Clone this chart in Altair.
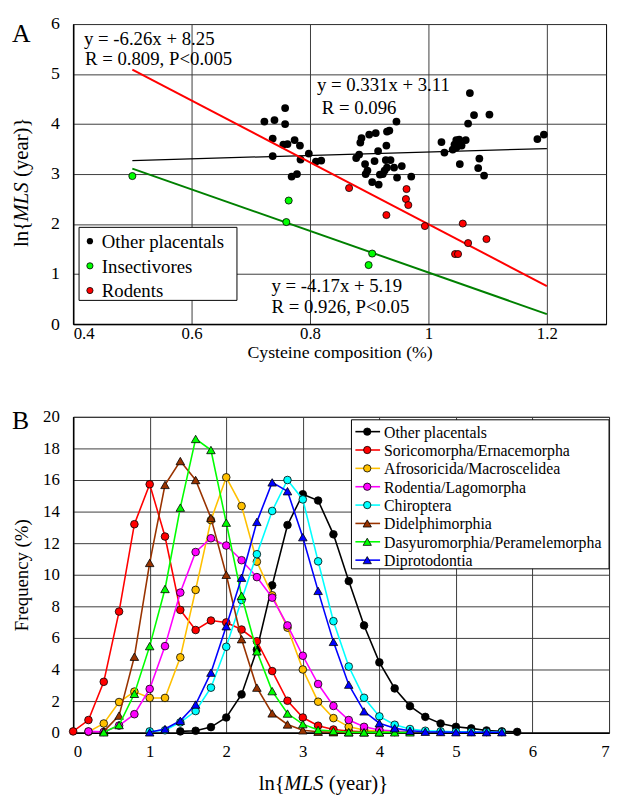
import altair as alt
import pandas as pd

FONT = "Liberation Serif"

# ---------------- Panel A data ----------------
other_x = [0.758, 0.723, 0.740, 0.758, 0.737, 0.755, 0.762, 0.774, 0.783, 0.737,
           0.798, 0.784, 0.810, 0.819, 0.769, 0.778, 0.878, 1.070, 1.077, 1.103,
           1.067, 0.946, 0.934, 0.930, 0.911, 0.900, 0.887, 0.885, 0.929, 0.915,
           0.883, 0.909, 0.928, 0.936, 0.893, 0.955, 0.942, 0.930, 0.926, 0.923,
           0.918, 0.897, 0.894, 0.947, 0.971, 0.905, 0.916, 1.022, 1.027, 1.047,
           1.052, 1.063, 1.044, 1.049, 1.041, 1.056, 1.047, 1.053, 1.086, 1.084,
           1.094, 1.184, 1.195]
other_y = [4.32, 4.05, 4.08, 4.00, 3.71, 3.59, 3.60, 3.68, 3.57, 3.36,
           3.41, 3.29, 3.25, 3.27, 2.95, 3.00, 3.32, 4.62, 4.18, 4.19,
           4.01, 4.05, 3.87, 3.85, 3.82, 3.79, 3.72, 3.63, 3.57, 3.46,
           3.39, 3.26, 3.28, 3.28, 3.20, 3.16, 3.13, 3.13, 3.07, 3.00,
           2.99, 3.07, 3.00, 2.93, 2.95, 2.84, 2.79, 3.64, 3.43, 3.68,
           3.69, 3.68, 3.59, 3.56, 3.49, 3.57, 3.53, 3.20, 3.31, 3.12,
           2.97, 3.70, 3.79]
insect_x = [0.500, 0.764, 0.760, 0.905, 0.899]
insect_y = [2.96, 2.47, 2.04, 1.41, 1.18]
rodent_x = [0.866, 0.963, 0.962, 0.966, 0.929, 0.994, 1.058, 1.067, 1.098, 1.045, 1.050]
rodent_y = [2.72, 2.70, 2.50, 2.38, 2.18, 1.96, 2.01, 1.62, 1.70, 1.40, 1.40]

fit_x = [0.5, 1.2]
fit_other_y = [3.27, 3.51]
fit_insect_y = [3.11, 0.20]
fit_rodent_y = [5.09, 0.76]

legend_a = ["Other placentals", "Insectivores", "Rodents"]
eq_other = ["y = 0.331x + 3.11", "R = 0.096"]
eq_insect = ["y = -4.17x + 5.19", "R = 0.926, P<0.05"]
eq_rodent = ["y = -6.26x + 8.25", "R = 0.809, P<0.005"]
a_xticks = [0.4, 0.6, 0.8, 1.0, 1.2]
a_yticks = [0, 1, 2, 3, 4, 5, 6]

# ---------------- Panel B data ----------------
bins = [0.0, 0.2, 0.4, 0.6, 0.8, 1.0, 1.2, 1.4, 1.6, 1.8,
        2.0, 2.2, 2.4, 2.6, 2.8, 3.0, 3.2, 3.4, 3.6, 3.8,
        4.0, 4.2, 4.4, 4.6, 4.8, 5.0, 5.2, 5.4, 5.6, 5.8]
series_names = ["Other placentals", "Soricomorpha/Ernacemorpha", "Afrosoricida/Macroscelidea",
                "Rodentia/Lagomorpha", "Chiroptera", "Didelphimorphia",
                "Dasyuromorphia/Peramelemorpha", "Diprotodontia"]
N = None
freq_other = [N, N, N, N, N, N, N, 0.08, 0.12, 0.35,
              0.96, 2.42, 5.25, 9.33, 13.15, 15.1, 14.7, 12.56, 9.6, 6.79,
              4.45, 2.8, 1.68, 1.0, 0.58, 0.37, 0.27, 0.14, 0.08, 0.05]
freq_sorico = [0.08, 0.8, 3.22, 7.67, 13.2, 15.73, 12.42, 7.77, 6.5, 7.1,
               6.98, 6.53, 5.79, 3.9, 2.02, 0.96, 0.44, 0.2, 0.1, 0.05,
               0.03, N, N, N, N, N, N, N, N, N]
freq_afro = [N, 0.05, 0.58, 1.94, 2.6, 2.2, 2.2, 4.77, 9.04, 13.46,
             16.17, 14.35, 10.83, 8.7, 6.65, 4.0, 1.96, 0.92, 0.37, 0.17,
             0.08, 0.04, N, N, N, N, N, N, N, N]
freq_rodentia = [N, 0.08, 0.05, 0.45, 1.17, 2.77, 5.48, 8.87, 11.44, 12.31,
                 11.85, 10.92, 9.85, 8.55, 6.79, 4.87, 3.08, 1.69, 0.8, 0.37,
                 0.17, 0.1, 0.05, N, N, N, N, N, N, N]
freq_chiro = [N, N, N, N, N, 0.08, 0.15, 0.65, 1.37, 2.85,
              5.44, 8.4, 11.3, 14.04, 16.0, 14.77, 10.85, 7.06, 4.19, 2.21,
              1.03, 0.5, 0.23, 0.12, 0.08, 0.06, 0.05, 0.04, 0.04, N]
freq_didel = [N, N, 0.08, 1.08, 4.81, 10.75, 15.69, 17.2, 16.0, 13.6,
              10.0, 5.92, 2.85, 1.22, 0.52, 0.15, 0.06, 0.03, 0.02, 0.02,
              0.02, N, N, N, N, N, N, N, N, N]
freq_dasyu = [N, N, 0.02, 0.48, 2.46, 5.48, 9.1, 14.25, 18.6, 17.9,
              13.3, 8.67, 5.15, 2.63, 1.21, 0.54, 0.17, 0.1, 0.03, 0.02,
              0.02, 0.02, 0.02, N, N, N, N, N, N, N]
freq_dipro = [N, N, N, N, N, 0.02, 0.23, 0.75, 1.78, 3.8,
              6.74, 9.81, 13.35, 15.85, 15.29, 12.38, 8.98, 5.75, 3.04, 1.35,
              0.6, 0.28, 0.12, 0.06, 0.04, 0.03, 0.03, 0.03, 0.03, N]
series_values = [freq_other, freq_sorico, freq_afro, freq_rodentia, freq_chiro,
                 freq_didel, freq_dasyu, freq_dipro]
b_xticks = [0, 1, 2, 3, 4, 5, 6, 7]
b_yticks = [0, 2, 4, 6, 8, 10, 12, 14, 16, 18, 20]

# ---------------- styles ----------------
series_colors = ["#000000", "#FF0000", "#FFC000", "#FF00FF", "#00FFFF",
                 "#993300", "#00FF00", "#0000FF"]
series_shapes = ["circle"] * 5 + ["triangle-up"] * 3
a_colors = ["#000000", "#00FF00", "#FF0000"]

WA, HA = 540, 304
WB, HB = 543, 320
one = alt.Data(values=[{}])

AXSTYLE = dict(labelFont=FONT, titleFont=FONT, labelColor="black", titleColor="black",
               titleFontWeight="normal", gridColor="#3c3c3c", gridWidth=1,
               domainColor="black", domainWidth=1.5, ticks=False)


def txt(s, x, y, size, align="left", baseline="middle", angle=0, style="normal"):
    kw = dict(font=FONT, fontSize=size, align=align, baseline=baseline,
              color="black", fontStyle=style)
    if angle:
        kw["angle"] = angle
    return alt.Chart(one).mark_text(**kw).encode(
        x=alt.value(x), y=alt.value(y), text=alt.value(s))


# ---------------- Panel A ----------------
axA_x = alt.Axis(values=a_xticks, format="~g", grid=True, labelFontSize=17,
                 labelPadding=2, title="Cysteine composition (%)", titleFontSize=18,
                 titleBaseline="middle", titleY=29, **AXSTYLE)
axA_y = alt.Axis(values=a_yticks, grid=True, labelFontSize=18, labelPadding=14, title=None,
                 **AXSTYLE)
sxA = alt.Scale(domain=[0.4, 1.3], nice=False)
syA = alt.Scale(domain=[0, 6], nice=False)


def XA():
    return alt.X("x:Q", scale=sxA, axis=axA_x)


def YA():
    return alt.Y("y:Q", scale=syA, axis=axA_y)


df_other = pd.DataFrame({"x": other_x, "y": other_y})
df_ins = pd.DataFrame({"x": insect_x, "y": insect_y})
df_rod = pd.DataFrame({"x": rodent_x, "y": rodent_y})
fit_o = pd.DataFrame({"x": fit_x, "y": fit_other_y})
fit_i = pd.DataFrame({"x": fit_x, "y": fit_insect_y})
fit_r = pd.DataFrame({"x": fit_x, "y": fit_rodent_y})

a_layers = [
    alt.Chart(fit_o).mark_line(color="black", strokeWidth=1.3).encode(x=XA(), y=YA()),
    alt.Chart(df_other).mark_circle(color="black", size=62, opacity=1).encode(x=XA(), y=YA()),
    alt.Chart(fit_i).mark_line(color="#008000", strokeWidth=2).encode(x=XA(), y=YA()),
    alt.Chart(fit_r).mark_line(color="#FF0000", strokeWidth=2).encode(x=XA(), y=YA()),
    alt.Chart(df_ins).mark_point(shape="circle", filled=True, fill="#00FF00", stroke="black",
                                 strokeWidth=0.8, size=52, opacity=1).encode(x=XA(), y=YA()),
    alt.Chart(df_rod).mark_point(shape="circle", filled=True, fill="#FF0000", stroke="black",
                                 strokeWidth=0.8, size=52, opacity=1).encode(x=XA(), y=YA()),
]
# equations
a_layers += [
    txt(eq_rodent[0], 11, 15, 19), txt(eq_rodent[1], 12, 36, 19),
    txt(eq_other[0], 247, 62, 19), txt(eq_other[1], 252, 85, 19),
    txt(eq_insect[0], 201, 265, 19), txt(eq_insect[1], 201, 287, 19),
]
# legend box
a_layers.append(alt.Chart(one).mark_rect(fill="white", stroke="black", strokeWidth=1).encode(
    x=alt.value(6), x2=alt.value(166), y=alt.value(206), y2=alt.value(280)))
for i, (nm, col) in enumerate(zip(legend_a, a_colors)):
    yy = 220 + i * 25
    if i == 0:
        a_layers.append(alt.Chart(one).mark_circle(color=col, size=40, opacity=1).encode(
            x=alt.value(17), y=alt.value(yy)))
    else:
        a_layers.append(alt.Chart(one).mark_point(shape="circle", filled=True, fill=col,
                                                  stroke="black", strokeWidth=0.8, size=40,
                                                  opacity=1).encode(x=alt.value(17), y=alt.value(yy)))
    a_layers.append(txt(nm, 29, yy + 1, 19))
# panel label and y title
a_layers.append(txt("A", -62, 10, 26))
ya0 = 226
a_layers += [
    txt("ln{", -52, ya0, 21, angle=270),
    txt("MLS", -52, ya0 - 26, 21, angle=270, style="italic"),
    txt("(year)}", -52, ya0 - 26 - 40 - 5, 21, angle=270),
]
chartA = alt.layer(*a_layers).properties(width=WA, height=HA)

# ---------------- Panel B ----------------
axB_x = alt.Axis(values=b_xticks, format="d", grid=True, labelFontSize=17,
                 labelPadding=11, title=None, **AXSTYLE)
axB_y = alt.Axis(values=b_yticks, format="d", grid=True, labelFontSize=17, labelPadding=14,
                 title="Frequency (%)", titleFontSize=19, titleX=-52, titleY=160,
                 titleBaseline="middle", titleAngle=270, titleAlign="center", **AXSTYLE)
sxB = alt.Scale(domain=[0, 7], nice=False)
syB = alt.Scale(domain=[0, 20], nice=False)

b_layers = []
for nm, vals, col, shp in zip(series_names, series_values, series_colors, series_shapes):
    d = pd.DataFrame({"x": bins, "f": vals}).dropna()
    enc = dict(x=alt.X("x:Q", scale=sxB, axis=axB_x), y=alt.Y("f:Q", scale=syB, axis=axB_y))
    b_layers.append(alt.Chart(d).mark_line(color=col, strokeWidth=1.6).encode(**enc))
    sz = 60 if shp == "circle" else 75
    b_layers.append(alt.Chart(d).mark_point(shape=shp, filled=True, fill=col, stroke="black",
                                            strokeWidth=0.8, size=sz, opacity=1).encode(**enc))
# legend
b_layers.append(alt.Chart(one).mark_rect(fill="white", stroke="black", strokeWidth=1).encode(
    x=alt.value(282), x2=alt.value(543), y=alt.value(3), y2=alt.value(154)))
for i, (nm, col, shp) in enumerate(zip(series_names, series_colors, series_shapes)):
    yy = 15 + i * 18.6
    b_layers.append(alt.Chart(one).mark_rule(color=col, strokeWidth=1.6).encode(
        x=alt.value(286), x2=alt.value(311), y=alt.value(yy)))
    sz = 55 if shp == "circle" else 70
    b_layers.append(alt.Chart(one).mark_point(shape=shp, filled=True, fill=col, stroke="black",
                                              strokeWidth=0.8, size=sz, opacity=1).encode(
        x=alt.value(298), y=alt.value(yy)))
    b_layers.append(txt(nm, 315, yy + 1, 16))
b_layers.append(txt("B", -62, 4, 26))
xb0 = 188
b_layers += [
    txt("ln{", xb0, 372, 21),
    txt("MLS", xb0 + 26, 372, 21, style="italic"),
    txt("(year)}", xb0 + 26 + 40 + 5, 372, 21),
]
chartB = alt.layer(*b_layers).properties(width=WB, height=HB)

chart = alt.vconcat(chartA, chartB, spacing=45).properties(
    padding={"left": 2, "top": 1, "right": 2, "bottom": 2}
).configure(font=FONT).configure_view(stroke="black", strokeWidth=1).configure_axis(
    gridColor="#3c3c3c", gridWidth=1, domainColor="black", domainWidth=1.5, ticks=False,
    labelColor="black", titleColor="black", labelFont=FONT, titleFont=FONT,
    titleFontWeight="normal")

chart.save("out.html", embed_options={"renderer": "svg", "actions": False})
